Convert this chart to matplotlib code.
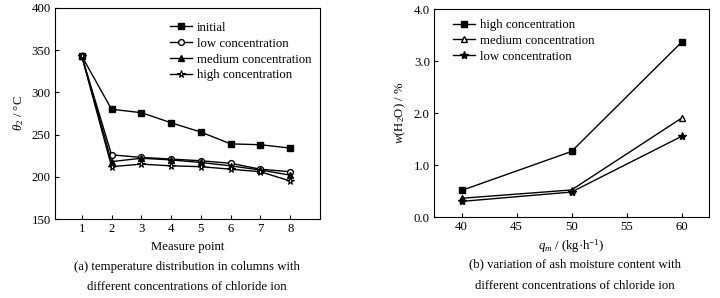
import matplotlib
matplotlib.use("Agg")
import matplotlib.pyplot as plt

plt.rcParams['font.family'] = ['Liberation Serif', 'DejaVu Serif']
plt.rcParams['mathtext.fontset'] = 'custom'
plt.rcParams['mathtext.rm'] = 'Liberation Serif'
plt.rcParams['mathtext.it'] = 'Liberation Serif:italic'

# Left panel data
points = [1, 2, 3, 4, 5, 6, 7, 8]
initial = [343, 280, 276, 264, 253, 239, 238, 234]
low_a = [343, 226, 223, 221, 219, 216, 209, 206]
medium_a = [343, 218, 222, 220, 217, 213, 208, 202]
high_a = [343, 212, 215, 213, 212, 209, 206, 195]

# Right panel data
qm = [40, 50, 60]
high_b = [0.51, 1.26, 3.36]
medium_b = [0.36, 0.52, 1.90]
low_b = [0.30, 0.48, 1.55]

fig = plt.figure(figsize=(7.2, 2.98), dpi=100)
W, H = 720, 298
axA = fig.add_axes([55 / W, 1 - 219 / H, (320 - 55) / W, (219 - 8) / H])
axB = fig.add_axes([434 / W, 1 - 217 / H, (709 - 434) / W, (217 - 9) / H])

lw = 1.0
fs = 9.2
ms = 4.2
axA.plot(points, initial, '-', color='k', lw=lw, marker='s', ms=ms, mfc='k', label='initial')
axA.plot(points, low_a, '-', color='k', lw=lw, marker='o', ms=ms, mfc='white', label='low concentration')
axA.plot(points, medium_a, '-', color='k', lw=lw, marker='^', ms=ms, mfc='k', label='medium concentration')
axA.plot(points, high_a, '-', color='k', lw=lw, marker='*', ms=5.5, mfc='white', mew=0.8, label='high concentration')
axA.set_xlim(0.1, 9.0)
axA.set_ylim(150, 400)
axA.set_xticks(points)
axA.set_yticks([150, 200, 250, 300, 350, 400])
axA.set_ylabel(r'$\theta_2$ / °C', fontsize=fs, labelpad=4)
axA.set_xlabel('Measure point', fontsize=fs, labelpad=4)
axA.legend(loc='upper left', bbox_to_anchor=(0.434, 0.934), frameon=False, fontsize=fs,
           handlelength=1.7, handletextpad=0.4, labelspacing=0.3, borderaxespad=0, borderpad=0)

axB.plot(qm, high_b, '-', color='k', lw=lw, marker='s', ms=ms, mfc='k', label='high concentration')
axB.plot(qm, medium_b, '-', color='k', lw=lw, marker='^', ms=ms, mfc='white', label='medium concentration')
axB.plot(qm, low_b, '-', color='k', lw=lw, marker='*', ms=6, mfc='k', label='low concentration')
axB.set_xlim(37.5, 62.5)
axB.set_ylim(0, 4.0)
axB.set_xticks([40, 45, 50, 55, 60])
axB.set_yticks([0, 1, 2, 3, 4])
axB.set_yticklabels(['0.0', '1.0', '2.0', '3.0', '4.0'])
axB.set_ylabel(r'$w$(H$_2$O) / %', fontsize=fs, labelpad=4)
axB.set_xlabel(r'$q_m$ / (kg·h$^{-1}$)', fontsize=fs, labelpad=3)
axB.legend(loc='upper left', bbox_to_anchor=(0.069, 0.952), frameon=False, fontsize=fs,
           handlelength=1.7, handletextpad=0.4, labelspacing=0.3, borderaxespad=0, borderpad=0)

for ax in (axA, axB):
    ax.tick_params(direction='in', length=3, width=0.8, labelsize=fs, pad=3)
    for s in ax.spines.values():
        s.set_linewidth(0.8)

fig.text(187 / W, 1 - 267 / H, '(a) temperature distribution in columns with', ha='center', va='center', fontsize=fs)
fig.text(187 / W, 1 - 287 / H, 'different concentrations of chloride ion', ha='center', va='center', fontsize=fs)
fig.text(575 / W, 1 - 264 / H, '(b) variation of ash moisture content with', ha='center', va='center', fontsize=fs)
fig.text(575 / W, 1 - 286 / H, 'different concentrations of chloride ion', ha='center', va='center', fontsize=fs)

fig.savefig('out.png', dpi=100)
